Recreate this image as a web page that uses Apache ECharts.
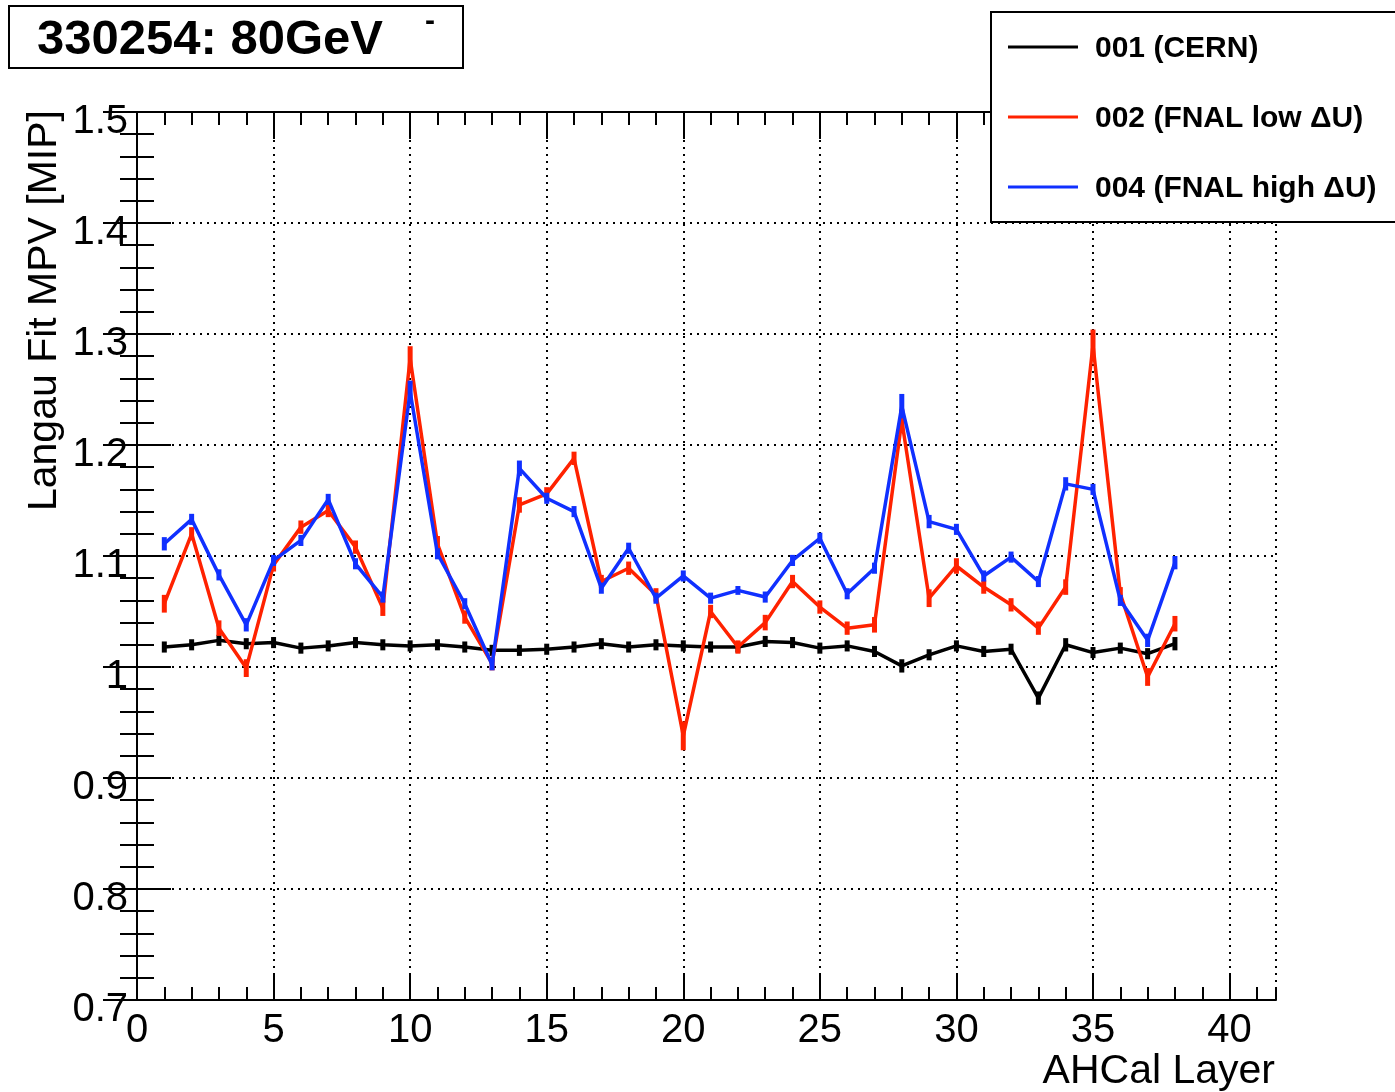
<!DOCTYPE html>
<html>
<head>
<meta charset="utf-8">
<script src="https://cdn.jsdelivr.net/npm/echarts@6/dist/echarts.min.js"></script>
<style>
html,body{margin:0;padding:0;background:#fff;}
#chart{width:1395px;height:1092px;}
</style>
</head>
<body>
<div id="chart"></div>
<script>
const layers = [1,2,3,4,5,6,7,8,9,10,11,12,13,14,15,16,17,18,19,20,21,22,23,24,25,26,27,28,29,30,31,32,33,34,35,36,37,38];
const cern = [1.018,1.020,1.024,1.021,1.022,1.017,1.019,1.022,1.020,1.019,1.020,1.018,1.015,1.015,1.016,1.018,1.021,1.018,1.020,1.019,1.018,1.018,1.023,1.022,1.017,1.019,1.014,1.001,1.011,1.019,1.014,1.016,0.972,1.020,1.013,1.017,1.012,1.021];
const cernErr = [0.005,0.005,0.005,0.005,0.005,0.005,0.005,0.005,0.005,0.005,0.005,0.005,0.005,0.005,0.005,0.005,0.005,0.005,0.005,0.005,0.005,0.005,0.005,0.005,0.005,0.005,0.005,0.006,0.005,0.005,0.005,0.005,0.006,0.006,0.005,0.005,0.005,0.006];
const fnalLow = [1.057,1.120,1.035,0.999,1.092,1.126,1.141,1.108,1.053,1.278,1.111,1.045,1.003,1.146,1.156,1.188,1.077,1.089,1.065,0.938,1.050,1.018,1.040,1.077,1.054,1.035,1.038,1.222,1.062,1.091,1.072,1.056,1.035,1.072,1.290,1.066,0.991,1.039];
const fnalLowErr = [0.008,0.006,0.007,0.008,0.006,0.006,0.006,0.006,0.007,0.011,0.007,0.006,0.006,0.007,0.006,0.006,0.006,0.006,0.006,0.013,0.006,0.006,0.007,0.006,0.006,0.006,0.007,0.010,0.008,0.007,0.006,0.006,0.006,0.007,0.014,0.006,0.008,0.007];
const fnalHigh = [1.111,1.133,1.083,1.038,1.096,1.114,1.151,1.093,1.063,1.248,1.102,1.057,1.002,1.179,1.152,1.140,1.071,1.107,1.062,1.082,1.062,1.069,1.063,1.096,1.116,1.066,1.089,1.235,1.131,1.124,1.082,1.099,1.077,1.165,1.160,1.060,1.024,1.094];
const fnalHighErr = [0.006,0.005,0.005,0.006,0.005,0.005,0.005,0.005,0.005,0.010,0.005,0.005,0.005,0.007,0.005,0.005,0.005,0.005,0.005,0.005,0.005,0.004,0.005,0.005,0.005,0.005,0.005,0.011,0.006,0.005,0.005,0.005,0.005,0.006,0.005,0.005,0.006,0.006];
const seriesNames = ['001 (CERN)', '002 (FNAL low \u0394U)', '004 (FNAL high \u0394U)'];
const seriesColors = ['#000000', '#ff2200', '#1030ff'];
const yTicks = ['0.7','0.8','0.9','1','1.1','1.2','1.3','1.4','1.5'];

const FONT = '"Liberation Sans", Arial, Helvetica, sans-serif';
const GL = 137, GT = 112, GR = 1276, GB = 1000;

function pts(vals) { return layers.map((x, i) => [x, vals[i]]); }
function errPts(vals, errs) { return layers.map((x, i) => [x, vals[i], errs[i]]); }

function errRender(color) {
  return function (params, api) {
    const x = api.value(0), y = api.value(1), e = api.value(2);
    const p1 = api.coord([x, y - e]);
    const p2 = api.coord([x, y + e]);
    return { type: 'line', shape: { x1: p1[0], y1: p1[1], x2: p2[0], y2: p2[1] },
      style: { stroke: color, lineWidth: 5 } };
  };
}

const gridRect = { left: GL, top: GT, width: GR - GL, height: GB - GT, outerBoundsMode: 'none', containLabel: false };
const dotted = { show: true, lineStyle: { color: '#000', width: 2, type: [2, 5] } };
const axisLineStyle = { show: true, lineStyle: { color: '#000', width: 2 } };

const xMax = 41.7;

const dataSeries = [cern, fnalLow, fnalHigh];
const errSeries = [cernErr, fnalLowErr, fnalHighErr];
const series = [];
dataSeries.forEach((vals, k) => {
  series.push({
    name: seriesNames[k], type: 'line', xAxisIndex: 0, yAxisIndex: 0,
    data: pts(vals), symbol: 'none', animation: false,
    lineStyle: { color: seriesColors[k], width: 3.5 }, z: 3 + k
  });
  series.push({
    type: 'custom', xAxisIndex: 0, yAxisIndex: 0,
    data: errPts(vals, errSeries[k]), renderItem: errRender(seriesColors[k]),
    animation: false, z: 3 + k, clip: true
  });
});

const legendY = [49, 119, 189];
const graphics = [
  { type: 'rect', shape: { x: 9, y: 6, width: 454, height: 62 }, style: { fill: '#fff', stroke: '#000', lineWidth: 2 }, z: 100 },
  { type: 'text', x: 37, y: 40, style: { text: '330254: 80GeV', font: 'bold 49px ' + FONT, fill: '#000', textVerticalAlign: 'middle', textAlign: 'left' }, z: 101 },
  { type: 'text', x: 430, y: 22, style: { text: '-', font: 'bold 30px ' + FONT, fill: '#000', textVerticalAlign: 'middle', textAlign: 'center' }, z: 101 },
  { type: 'rect', shape: { x: 991, y: 12, width: 430, height: 210 }, style: { fill: '#fff', stroke: '#000', lineWidth: 2 }, z: 100 },
  { type: 'text', x: 45, y: 110, rotation: Math.PI / 2, style: { text: 'Langau Fit MPV [MIP]', font: '41px ' + FONT, fill: '#000', textAlign: 'right', textVerticalAlign: 'middle' }, z: 101 },
  { type: 'text', x: 1275, y: 1072, style: { text: 'AHCal Layer', font: '41px ' + FONT, fill: '#000', textAlign: 'right', textVerticalAlign: 'middle' }, z: 101 }
];
seriesNames.forEach((n, k) => {
  graphics.push({ type: 'line', shape: { x1: 1008, y1: legendY[k] - 2, x2: 1078, y2: legendY[k] - 2 }, style: { stroke: seriesColors[k], lineWidth: 3 }, z: 101 });
  graphics.push({ type: 'text', x: 1095, y: legendY[k], style: { text: n, font: 'bold 30px ' + FONT, fill: '#000', textVerticalAlign: 'middle', textAlign: 'left' }, z: 101 });
});

const option = {
  backgroundColor: '#fff',
  animation: false,
  grid: [Object.assign({}, gridRect), Object.assign({}, gridRect)],
  xAxis: [
    { gridIndex: 0, type: 'value', position: 'bottom', min: 0, max: xMax, interval: 5,
      axisLine: axisLineStyle, axisTick: { show: true, inside: true, length: 27, lineStyle: { color: '#000', width: 2 } },
      axisLabel: { show: true, color: '#000', fontSize: 40, fontFamily: FONT, margin: 11, showMaxLabel: false, showMinLabel: true },
      splitLine: dotted },
    { gridIndex: 0, type: 'value', position: 'top', min: 0, max: xMax, interval: 5,
      axisLine: axisLineStyle, axisTick: { show: true, inside: true, length: 27, lineStyle: { color: '#000', width: 2 } },
      axisLabel: { show: false }, splitLine: { show: false } },
    { gridIndex: 1, type: 'value', position: 'bottom', min: 0, max: xMax, interval: 1,
      axisLine: { show: false }, axisTick: { show: true, inside: true, length: 13, lineStyle: { color: '#000', width: 2 } },
      axisLabel: { show: false }, splitLine: { show: false } },
    { gridIndex: 1, type: 'value', position: 'top', min: 0, max: xMax, interval: 1,
      axisLine: { show: false }, axisTick: { show: true, inside: true, length: 13, lineStyle: { color: '#000', width: 2 } },
      axisLabel: { show: false }, splitLine: { show: false } }
  ],
  yAxis: [
    { gridIndex: 0, type: 'value', position: 'left', min: 0.7, max: 1.5, interval: 0.1,
      axisLine: axisLineStyle, axisTick: { show: true, inside: true, length: 34, lineStyle: { color: '#000', width: 2 } },
      minorTick: { show: true, splitNumber: 5, length: 17, lineStyle: { color: '#000', width: 2 } },
      axisLabel: { show: true, color: '#000', fontSize: 40, fontFamily: FONT, margin: 9, verticalAlign: 'top', lineHeight: 20,
        formatter: function (v) { const i = Math.round((v - 0.7) * 10); return yTicks[i] !== undefined ? yTicks[i] : ''; } },
      splitLine: dotted },
    { gridIndex: 0, type: 'value', position: 'right', min: 0.7, max: 1.5, interval: 0.1,
      axisLine: axisLineStyle, axisTick: { show: true, inside: true, length: 34, lineStyle: { color: '#000', width: 2 } },
      minorTick: { show: true, splitNumber: 5, length: 17, lineStyle: { color: '#000', width: 2 } },
      axisLabel: { show: false }, splitLine: { show: false } },
    { gridIndex: 1, type: 'value', min: 0.7, max: 1.5, show: false }
  ],
  series: series,
  graphic: graphics
};

const chart = echarts.init(document.getElementById('chart'), null, { renderer: 'canvas' });
chart.setOption(option);
</script>
</body>
</html>
